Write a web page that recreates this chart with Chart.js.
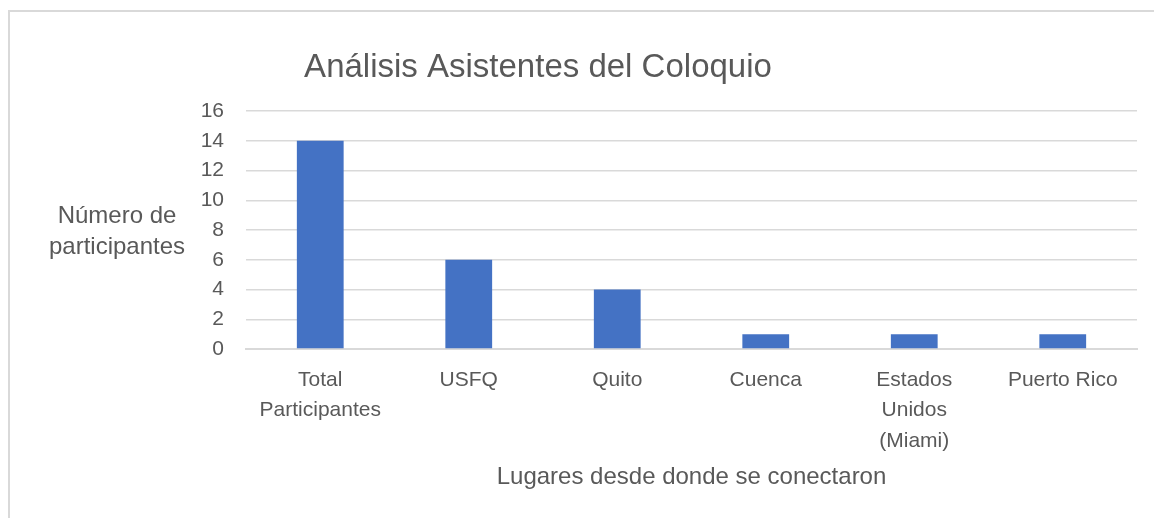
<!DOCTYPE html>
<html>
<head>
<meta charset="utf-8">
<script src="https://cdn.jsdelivr.net/npm/chart.js@4/dist/chart.umd.min.js"></script>
<style>
  html, body { margin: 0; padding: 0; background: #fff; }
  #wrap { position: relative; width: 1154px; height: 518px; overflow: hidden; }
  #frame { position: absolute; left: 8px; top: 10px; width: 1200px; height: 600px;
           border-left: 2px solid #d9d9d9; border-top: 2px solid #d9d9d9; box-sizing: border-box; pointer-events: none; }
  canvas { position: absolute; left: 0; top: 0; }
</style>
</head>
<body>
<div id="wrap">
  <canvas id="c" width="1154" height="518"></canvas>
  <div id="frame"></div>
</div>
<script>
const categories = [["Total", "Participantes"], ["USFQ"], ["Quito"], ["Cuenca"], ["Estados", "Unidos", "(Miami)"], ["Puerto Rico"]];
const participantes = [14, 6, 4, 1, 1, 1];
const chartTitle = "Análisis Asistentes del Coloquio";
const yTitleLines = ["Número de", "participantes"];
const xTitle = "Lugares desde donde se conectaron";

const FONT = "'Liberation Sans', Arial, sans-serif";
const GREY = "#595959";

const textPlugin = {
  id: 'textPlugin',
  afterDraw(chart) {
    const ctx = chart.ctx;
    ctx.save();
    ctx.fillStyle = GREY;
    ctx.textAlign = 'center';
    ctx.textBaseline = 'alphabetic';
    ctx.font = "33px " + FONT;
    ctx.fillText(chartTitle, 538, 77);
    ctx.font = "24px " + FONT;
    ctx.fillText(yTitleLines[0], 117, 223);
    ctx.fillText(yTitleLines[1], 117, 254);
    ctx.restore();
  }
};

new Chart(document.getElementById('c'), {
  type: 'bar',
  data: {
    labels: categories,
    datasets: [{
      data: participantes,
      backgroundColor: '#4472C4',
      borderWidth: 0,
      categoryPercentage: 1,
      barPercentage: 0.315
    }]
  },
  options: {
    responsive: false,
    devicePixelRatio: 1,
    animation: false,
    layout: { padding: { top: 111, right: 17, left: 0, bottom: 0 } },
    plugins: { legend: { display: false }, tooltip: { enabled: false }, title: { display: false } },
    scales: {
      y: {
        min: 0, max: 16,
        ticks: { stepSize: 2, color: GREY, font: { family: FONT, size: 21 }, padding: 22 },
        grid: { color: '#d9d9d9', lineWidth: 1.5, drawTicks: false },
        border: { display: false },
        afterFit(scale) { scale.width = 246; }
      },
      x: {
        ticks: { color: GREY, font: { family: FONT, size: 21, lineHeight: 1.45 }, padding: 16, maxRotation: 0, autoSkip: false },
        grid: { display: false, drawTicks: false },
        border: { display: true, color: '#d9d9d9', width: 2 },
        title: { display: true, text: xTitle, color: GREY, font: { family: FONT, size: 24 }, padding: { top: 0, bottom: 26 } },
        afterFit(scale) { scale.height = 169; }
      }
    }
  },
  plugins: [textPlugin]
});
</script>
</body>
</html>
